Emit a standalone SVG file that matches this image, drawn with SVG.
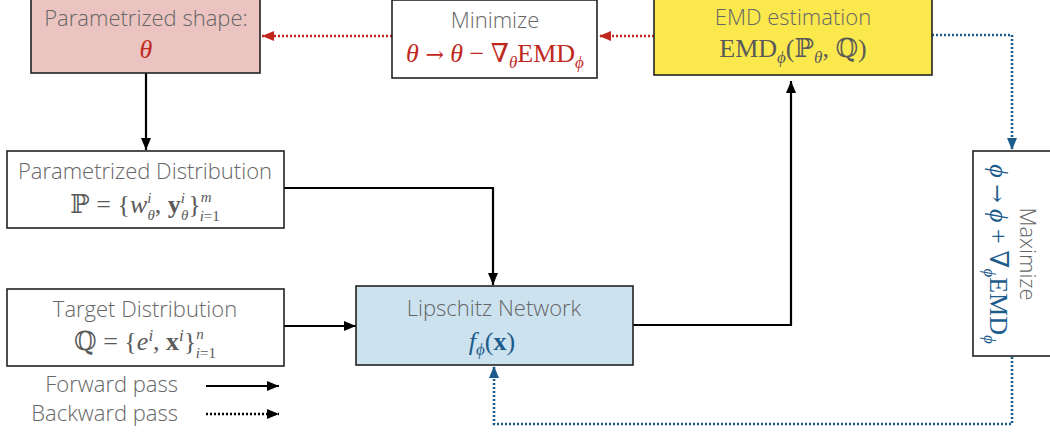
<svg xmlns="http://www.w3.org/2000/svg" width="1050" height="435" viewBox="0 0 1050 435">
<style>
.box{stroke:#222;stroke-width:1.6}
.lbl{font-family:"Open Sans","DejaVu Sans",sans-serif;font-size:22px;fill:#666;font-weight:300;text-anchor:middle}
.m{font-family:"Liberation Serif","DejaVu Serif",serif;font-size:26px;text-anchor:middle}
.i{font-style:italic}
.b{font-weight:bold}
.s{font-size:17px}
.t{font-size:15px}
.ar{font-family:"DejaVu Serif",serif;font-size:22px}
.solid{fill:none;stroke:#000;stroke-width:2.2}
.dotr{fill:none;stroke:#c0281e;stroke-width:2.6;stroke-dasharray:2 2}
.dotb{fill:none;stroke:#1c5c8c;stroke-width:2.6;stroke-dasharray:2 2}
.dotk{fill:none;stroke:#000;stroke-width:2.4;stroke-dasharray:2 2}
</style>
<defs>
<marker id="ak" markerUnits="userSpaceOnUse" markerWidth="13" markerHeight="11" refX="12" refY="5.5" orient="auto"><path d="M0,0.5 L12,5.5 L0,10.5 z" fill="#000"/></marker>
<marker id="ar" markerUnits="userSpaceOnUse" markerWidth="13" markerHeight="11" refX="12" refY="5.5" orient="auto"><path d="M0,0.5 L12,5.5 L0,10.5 z" fill="#c0281e"/></marker>
<marker id="ab" markerUnits="userSpaceOnUse" markerWidth="13" markerHeight="11" refX="12" refY="5.5" orient="auto"><path d="M0,0.5 L12,5.5 L0,10.5 z" fill="#1c5c8c"/></marker>
</defs>
<rect width="1050" height="435" fill="#fff"/>

<g id="connectors">
<path class="dotr" d="M392,36 H262" marker-end="url(#ar)"/>
<path class="dotr" d="M654,36 H599" marker-end="url(#ar)"/>
<path class="dotb" d="M932,35 H1012 V150" marker-end="url(#ab)"/>
<path class="dotb" d="M1012,357 V424 H494 V366" marker-end="url(#ab)"/>
<path class="solid" d="M146,73 V150" marker-end="url(#ak)"/>
<path class="solid" d="M284,188 H493 V285" marker-end="url(#ak)"/>
<path class="solid" d="M284,326 H356" marker-end="url(#ak)"/>
<path class="solid" d="M633,325 H791 V81" marker-end="url(#ak)"/>
</g>

<g id="shape">
<rect class="box" x="31" y="-3" width="229" height="76" fill="#ebc4c1"/>
<text class="lbl" x="146" y="26">Parametrized shape:</text>
<text class="m i" x="146" y="58" fill="#c0281e" font-size="28">θ</text>
</g>

<g id="minimize">
<rect class="box" x="392" y="0" width="205" height="78" fill="#fff"/>
<text class="lbl" x="495" y="28">Minimize</text>
<text class="m" x="495" y="62" fill="#c0281e"><tspan class="i">θ</tspan> <tspan class="ar">→</tspan> <tspan class="i">θ</tspan> − ∇<tspan class="i s" dy="6">θ</tspan><tspan dy="-6">EMD</tspan><tspan class="i s" dy="6">ϕ</tspan></text>
</g>

<g id="emd">
<rect class="box" x="654" y="-3" width="278" height="78" fill="#fbe84c"/>
<text class="lbl" x="793" y="25">EMD estimation</text>
<text class="m" x="793" y="57" fill="#5a5a5a">EMD<tspan class="i s" dy="6">ϕ</tspan><tspan dy="-6">(ℙ</tspan><tspan class="i s" dy="6">θ</tspan><tspan dy="-6">, ℚ)</tspan></text>
</g>

<g id="paramdist">
<rect class="box" x="7" y="151" width="277" height="77" fill="#fff"/>
<text class="lbl" x="145" y="179">Parametrized Distribution</text>
<text class="m" x="145" y="213" fill="#5a5a5a">ℙ = {<tspan class="i">w</tspan><tspan class="i t" dy="-10">i</tspan><tspan class="i t" dx="-4" dy="17">θ</tspan><tspan dy="-7">, </tspan><tspan class="b">y</tspan><tspan class="i t" dy="-10">i</tspan><tspan class="i t" dx="-4" dy="17">θ</tspan><tspan dy="-7">}</tspan><tspan class="i t" dy="-11">m</tspan><tspan class="t" dx="-12" dy="19"><tspan class="i">i</tspan>=1</tspan></text>
</g>

<g id="target">
<rect class="box" x="7" y="289" width="277" height="77" fill="#fff"/>
<text class="lbl" x="145" y="317">Target Distribution</text>
<text class="m" x="145" y="350" fill="#5a5a5a">ℚ = {<tspan class="i">e</tspan><tspan class="i s" dy="-9">i</tspan><tspan dy="9">, </tspan><tspan class="b">x</tspan><tspan class="i s" dy="-9">i</tspan><tspan dy="9">}</tspan><tspan class="i t" dy="-11">n</tspan><tspan class="t" dx="-8" dy="19"><tspan class="i">i</tspan>=1</tspan></text>
</g>

<g id="lipschitz">
<rect class="box" x="356" y="286" width="277" height="79" fill="#cce2ef"/>
<text class="lbl" x="494" y="316">Lipschitz Network</text>
<text class="m" x="492" y="350" fill="#1c5c8c"><tspan class="i">f</tspan><tspan class="i s" dy="5">ϕ</tspan><tspan dy="-5">(</tspan><tspan class="b">x</tspan>)</text>
</g>

<g id="maximize">
<rect class="box" x="973" y="151" width="90" height="205" fill="#fff"/>
<g transform="translate(1010,254) rotate(90)">
<text class="lbl" x="0" y="-10">Maximize</text>
<text class="m" x="0" y="20" fill="#1c5c8c"><tspan class="i">ϕ</tspan> <tspan class="ar">→</tspan> <tspan class="i">ϕ</tspan> + ∇<tspan class="i s" dy="6">ϕ</tspan><tspan dy="-6">EMD</tspan><tspan class="i s" dy="6">ϕ</tspan></text>
</g>
</g>

<g id="legend">
<text class="lbl" x="178" y="392" style="text-anchor:end">Forward pass</text>
<text class="lbl" x="178" y="421" style="text-anchor:end">Backward pass</text>
<path class="solid" d="M206,386 H279" marker-end="url(#ak)"/>
<path class="dotk" d="M206,414 H279" marker-end="url(#ak)"/>
</g>
</svg>
